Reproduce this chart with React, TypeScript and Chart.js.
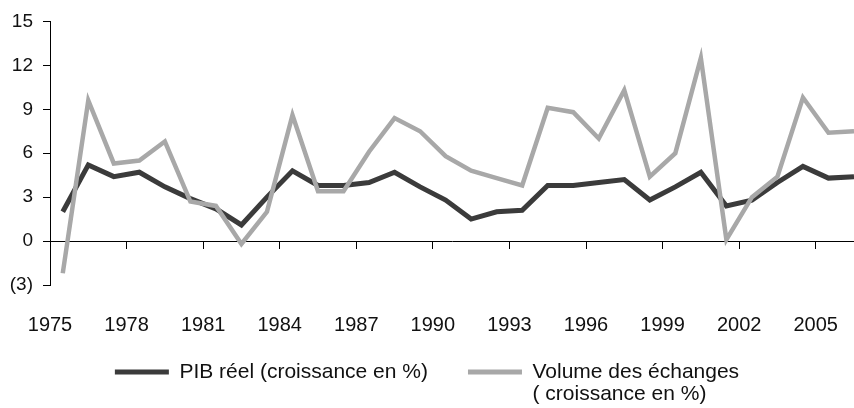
import React, { useEffect, useRef } from "react";
import { Chart, registerables } from "chart.js";

Chart.register(...registerables);

// ---- data ----
const years: number[] = [
  1975, 1976, 1977, 1978, 1979, 1980, 1981, 1982, 1983, 1984, 1985, 1986, 1987, 1988, 1989, 1990,
  1991, 1992, 1993, 1994, 1995, 1996, 1997, 1998, 1999, 2000, 2001, 2002, 2003, 2004, 2005, 2006,
];
const pibGrowth: number[] = [
  2.0, 5.2, 4.4, 4.7, 3.7, 2.9, 2.2, 1.1, 3.0, 4.8, 3.8, 3.8, 4.0, 4.7, 3.7, 2.8,
  1.5, 2.0, 2.1, 3.8, 3.8, 4.0, 4.2, 2.8, 3.7, 4.7, 2.4, 2.8, 4.0, 5.1, 4.3, 4.4,
];
const tradeGrowth: number[] = [
  -2.2, 9.6, 5.3, 5.5, 6.8, 2.7, 2.4, -0.2, 2.0, 8.6, 3.4, 3.4, 6.1, 8.4, 7.5, 5.8,
  4.8, 4.3, 3.8, 9.1, 8.8, 7.0, 10.3, 4.4, 6.0, 12.5, 0.1, 3.0, 4.4, 9.8, 7.4, 7.5,
];
const xTickYears: number[] = [1975, 1978, 1981, 1984, 1987, 1990, 1993, 1996, 1999, 2002, 2005];
const yMin = -3;
const yMax = 15;
const yStep = 3;
const seriesLabels: string[][] = [
  ["PIB réel (croissance en %)"],
  ["Volume des échanges", "( croissance en %)"],
];
const seriesColors: string[] = ["#3b3b3b", "#a8a8a8"];

const FONT = "'Liberation Sans', Arial, Helvetica, sans-serif";
const LEGEND_FONT_SIZE = 21;
const LEGEND_BOX_W = 54;

const multiLineLegend = {
  id: "multiLineLegend",
  afterDraw(chart: any) {
    const legend = chart.legend;
    if (!legend || !legend.legendHitBoxes) return;
    const ctx = chart.ctx;
    ctx.save();
    ctx.font = `${LEGEND_FONT_SIZE}px ${FONT}`;
    ctx.fillStyle = "#111";
    ctx.textAlign = "left";
    ctx.textBaseline = "middle";
    seriesLabels.forEach((lines, i) => {
      const hb = legend.legendHitBoxes[i];
      if (!hb) return;
      for (let k = 1; k < lines.length; k++) {
        ctx.fillText(
          lines[k],
          hb.left + LEGEND_BOX_W + LEGEND_FONT_SIZE / 2,
          hb.top + LEGEND_FONT_SIZE / 2 + k * 22
        );
      }
    });
    ctx.restore();
  },
};

export default function App() {
  const ref = useRef<HTMLCanvasElement | null>(null);

  useEffect(() => {
    document.body.style.margin = "0";
    if (!ref.current) return;
    const xTickBuilder = (scale: any) => {
      scale.ticks = xTickYears.map((y) => ({ value: y - 0.5 }));
    };
    const chart = new Chart(ref.current, {
      type: "line",
      data: {
        datasets: [
          {
            label: seriesLabels[0][0],
            data: years.map((y, i) => ({ x: y, y: pibGrowth[i] })),
            borderColor: seriesColors[0],
            backgroundColor: seriesColors[0],
            borderWidth: 5,
            pointRadius: 0,
            tension: 0,
            borderJoinStyle: "miter",
            order: 1,
          },
          {
            label: seriesLabels[1][0],
            data: years.map((y, i) => ({ x: y, y: tradeGrowth[i] })),
            borderColor: seriesColors[1],
            backgroundColor: seriesColors[1],
            borderWidth: 4.5,
            pointRadius: 0,
            tension: 0,
            borderJoinStyle: "miter",
            order: 0,
          },
        ],
      },
      options: {
        responsive: false,
        animation: false,
        layout: { padding: { top: 20, right: 0, left: 0, bottom: 15.5 } },
        scales: {
          // data axis at the bottom: reserves the space under the plot, draws nothing
          x: {
            type: "linear",
            position: "bottom",
            bounds: "data",
            min: years[0] - 0.5,
            max: years[years.length - 1],
            afterBuildTicks: xTickBuilder,
            afterFit: (scale: any) => {
              scale.height = 36.5;
              scale.paddingLeft = 0;
              scale.paddingRight = 0;
            },
            border: { display: false },
            grid: { display: false },
            ticks: { display: false },
          },
          // axis line crossing at y = 0, with tick marks and the year labels
          x0: {
            type: "linear",
            axis: "x",
            position: { y: 0 },
            bounds: "data",
            min: years[0] - 0.5,
            max: years[years.length - 1],
            afterBuildTicks: xTickBuilder,
            afterFit: (scale: any) => {
              scale.paddingLeft = 0;
              scale.paddingRight = 0;
            },
            border: { display: true, color: "#000", width: 1 },
            grid: {
              display: true,
              drawOnChartArea: false,
              drawTicks: true,
              tickLength: 7,
              color: "#000",
              lineWidth: 1,
            },
            ticks: {
              display: true,
              padding: 65,
              maxRotation: 0,
              autoSkip: false,
              color: "#111",
              font: { size: 20, family: FONT },
              callback: (v: any) => String(Number(v) + 0.5),
            },
          },
          y: {
            type: "linear",
            position: "left",
            min: yMin,
            max: yMax,
            afterFit: (scale: any) => {
              scale.width = 50;
            },
            border: { display: true, color: "#000", width: 1 },
            grid: {
              display: true,
              drawOnChartArea: false,
              drawTicks: true,
              tickLength: 7,
              color: "#000",
              lineWidth: 1,
            },
            ticks: {
              stepSize: yStep,
              padding: 10,
              color: "#111",
              font: { size: 19, family: FONT },
              callback: (v: any) => (Number(v) < 0 ? `(${-Number(v)})` : String(v)),
            },
          },
        },
        plugins: {
          tooltip: { enabled: false },
          title: { display: false },
          legend: {
            display: true,
            position: "bottom",
            labels: {
              boxWidth: LEGEND_BOX_W,
              boxHeight: 5,
              padding: 40,
              color: "#111",
              font: { size: LEGEND_FONT_SIZE, family: FONT },
              generateLabels: (ch: any) =>
                ch.data.datasets.map((ds: any, i: number) => ({
                  text: seriesLabels[i][0],
                  fillStyle: seriesColors[i],
                  strokeStyle: seriesColors[i],
                  lineWidth: 0,
                  hidden: false,
                  datasetIndex: i,
                  fontColor: "#111",
                })),
            },
          },
        },
      },
      plugins: [multiLineLegend],
    } as any);
    return () => chart.destroy();
  }, []);

  return (
    <div style={{ width: 854, height: 408 }}>
      <canvas ref={ref} width={854} height={408} style={{ display: "block" }} />
    </div>
  );
}
